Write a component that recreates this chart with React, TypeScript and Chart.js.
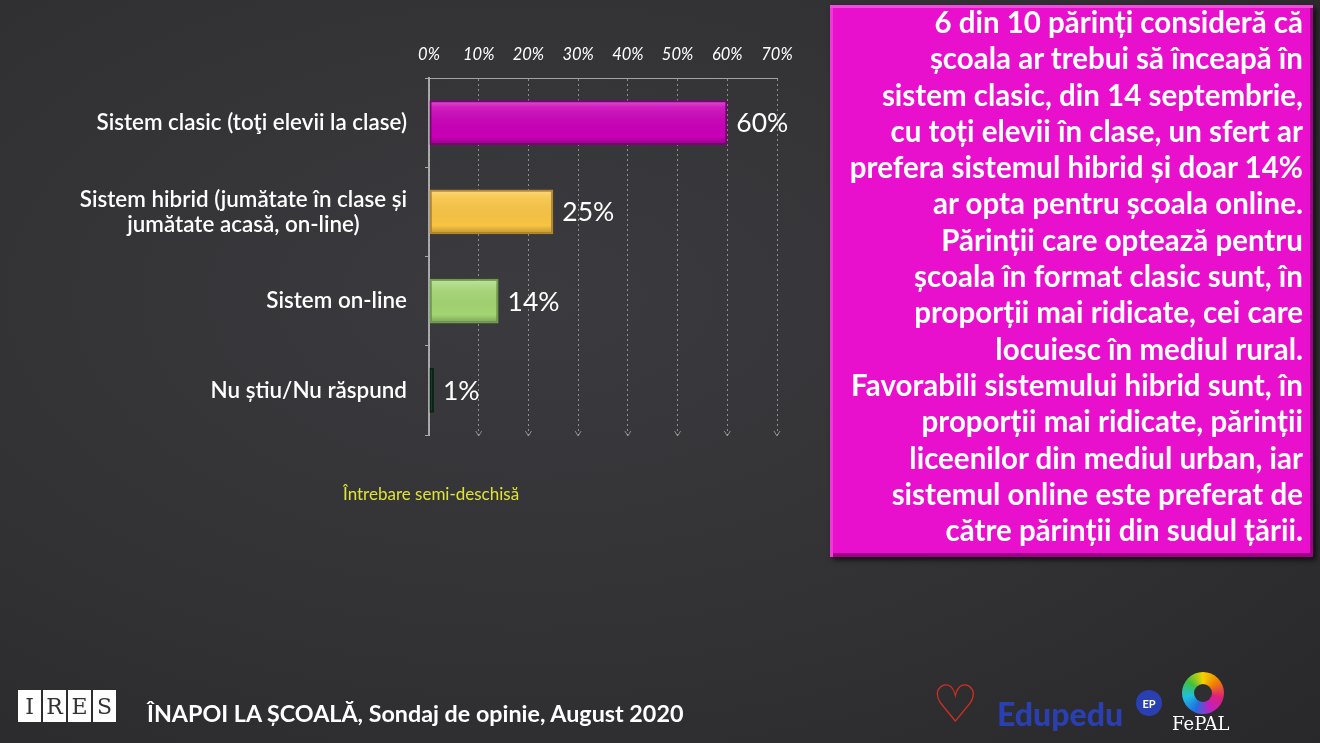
import React, { useEffect, useRef } from "react";
import { Chart, registerables } from "chart.js";

Chart.register(...registerables);

const categories: string[][] = [
  ["Sistem clasic (toţi elevii la clase)"],
  ["Sistem hibrid (jumătate în clase și", "jumătate acasă, on-line)"],
  ["Sistem on-line"],
  ["Nu știu/Nu răspund"],
];
const values: number[] = [60, 25, 14, 1];
const valueLabels: string[] = ["60%", "25%", "14%", "1%"];
const barColors: string[] = ["#c900b8", "#f8c443", "#a3d572", "#0f4a30"];
const barBorders: string[] = ["#7e0074", "#b8862a", "#6f9e48", "#0a2418"];
const xTicks: number[] = [0, 10, 20, 30, 40, 50, 60, 70];

const boxLines: string[] = [
  "6 din 10 părinți consideră că",
  "școala ar trebui să înceapă în",
  "sistem clasic, din 14 septembrie,",
  "cu toți elevii în clase, un sfert ar",
  "prefera sistemul hibrid și doar 14%",
  "ar opta pentru școala online.",
  "Părinții care  optează pentru",
  "școala în format clasic sunt, în",
  "proporții mai ridicate, cei care",
  "locuiesc în mediul rural.",
  "Favorabili sistemului hibrid sunt, în",
  "proporții mai ridicate, părinții",
  "liceenilor din mediul urban, iar",
  "sistemul online este preferat de",
  "către părinții din sudul țării.",
];

const FONT = "Lato, 'Open Sans', sans-serif";

const labelPlugin = {
  id: "customLabels",
  afterDraw(chart: any) {
    const ctx = chart.ctx;
    const y = chart.scales.y;
    const x = chart.scales.x;
    const meta = chart.getDatasetMeta(0);
    ctx.save();
    // arrowheads at bottom of grid lines
    ctx.strokeStyle = "rgba(200,200,200,0.6)";
    ctx.lineWidth = 1;
    const bottom = chart.chartArea.bottom;
    xTicks.slice(1).forEach((v) => {
      const px = x.getPixelForValue(v);
      ctx.beginPath();
      ctx.moveTo(px - 3, bottom - 4);
      ctx.lineTo(px, bottom + 1);
      ctx.lineTo(px + 3, bottom - 4);
      ctx.stroke();
    });
    // category labels
    ctx.fillStyle = "#ffffff";
    ctx.font = `600 22.4px ${FONT}`;
    ctx.textBaseline = "middle";
    const rightX = 407;
    categories.forEach((lines, i) => {
      const cy = y.getPixelForValue(i);
      const lh = 25;
      const widths = lines.map((l) => ctx.measureText(l).width);
      const maxW = Math.max(...widths);
      lines.forEach((l, j) => {
        const ly = cy + (j - (lines.length - 1) / 2) * lh;
        if (lines.length > 1) {
          ctx.textAlign = "center";
          ctx.fillText(l, rightX - maxW / 2, ly);
        } else {
          ctx.textAlign = "right";
          ctx.fillText(l, rightX, ly);
        }
      });
    });
    // value labels
    ctx.font = `400 26.5px ${FONT}`;
    ctx.textAlign = "left";
    meta.data.forEach((bar: any, i: number) => {
      ctx.fillText(valueLabels[i], bar.x + 9, bar.y + 1);
    });
    // bevel highlights
    meta.data.forEach((bar: any) => {
      const h = bar.height;
      const top = bar.y - h / 2;
      const left = bar.base;
      const w = bar.x - bar.base;
      if (w < 6) return;
      const g = ctx.createLinearGradient(0, top, 0, top + h);
      g.addColorStop(0, "rgba(255,255,255,0.35)");
      g.addColorStop(0.15, "rgba(255,255,255,0.12)");
      g.addColorStop(0.8, "rgba(0,0,0,0)");
      g.addColorStop(1, "rgba(0,0,0,0.25)");
      ctx.fillStyle = g;
      ctx.fillRect(left + 2, top + 2, w - 4, h - 4);
    });
    ctx.restore();
  },
};

function BarChart() {
  const ref = useRef<HTMLCanvasElement>(null);
  useEffect(() => {
    if (!ref.current) return;
    const chart = new Chart(ref.current, {
      type: "bar",
      data: {
        labels: categories.map((c) => c.join(" ")),
        datasets: [
          {
            data: values,
            backgroundColor: barColors,
            borderColor: barBorders,
            borderWidth: 2,
            borderSkipped: false,
            categoryPercentage: 1,
            barPercentage: 0.5,
          },
        ],
      },
      options: {
        indexAxis: "y",
        animation: false,
        responsive: false,
        maintainAspectRatio: false,
        layout: { padding: { left: 0, right: 43, top: 0, bottom: 35 } },
        plugins: { legend: { display: false }, tooltip: { enabled: false } },
        scales: {
          x: {
            position: "top",
            min: 0,
            max: 70,
            afterBuildTicks: (s: any) => {
              s.ticks = xTicks.map((v) => ({ value: v }));
            },
            afterFit: (s: any) => {
              s.height = 78;
            },
            ticks: {
              color: "#ffffff",
              font: { family: FONT, size: 16.5, style: "italic" },
              padding: 13,
              callback: (v: any) => `${v}%`,
            },
            grid: {
              color: "rgba(200,200,200,0.6)",
              lineWidth: 1,
              drawTicks: false,
            },
            border: { display: true, color: "rgba(190,190,190,0.8)", dash: [2, 3], width: 1 },
          },
          y: {
            afterFit: (s: any) => {
              s.width = 429;
            },
            ticks: { display: false },
            grid: {
              display: true,
              offset: true,
              drawOnChartArea: false,
              drawTicks: true,
              tickLength: 4,
              color: "rgba(180,180,180,0.9)",
            },
            border: { display: true, color: "rgba(180,180,180,0.9)", width: 2 },
          },
        },
      },
      plugins: [labelPlugin],
    } as any);
    return () => chart.destroy();
  }, []);
  return (
    <canvas
      ref={ref}
      width={820}
      height={470}
      style={{ position: "absolute", left: 0, top: 0, width: 820, height: 470 }}
    />
  );
}

export default function App() {
  useEffect(() => {
    document.body.style.margin = "0";
  }, []);
  return (
    <div
      style={{
        position: "fixed",
        left: 0,
        top: 0,
        width: 1320,
        height: 743,
        overflow: "hidden",
        background: "radial-gradient(ellipse at 40% 40%, #3b3b3f 0%, #313134 60%, #28282a 100%)",
        fontFamily: FONT,
      }}
    >
      <BarChart />
      <div
        style={{
          position: "absolute",
          left: 343,
          top: 483,
          color: "#dfe336",
          fontSize: 17,
          fontFamily: FONT,
        }}
      >
        Întrebare semi-deschisă
      </div>
      <div
        style={{
          position: "absolute",
          left: 830,
          top: 5,
          width: 483,
          height: 552,
          boxSizing: "border-box",
          background: "#e810cc",
          boxShadow:
            "inset 0 3px 0 #f24be0, inset 3px 0 0 #f03ad8, inset -3px -4px 0 #a0008a, 3px 3px 5px rgba(0,0,0,0.7)",
          color: "#ffffff",
          fontWeight: 700,
          fontSize: 29.5,
          lineHeight: "36.3px",
          textAlign: "right",
          paddingRight: 10,
          fontFamily: FONT,
          whiteSpace: "nowrap",
        }}
      >
        <div style={{ marginTop: -1 }}>
          {boxLines.map((l, i) => (
            <div key={i}>{l}</div>
          ))}
        </div>
      </div>
      <div
        style={{
          position: "absolute",
          left: 18,
          top: 690,
          display: "flex",
          gap: 2,
        }}
      >
        {["I", "R", "E", "S"].map((c) => (
          <div
            key={c}
            style={{
              width: 23,
              height: 32,
              background: "#ffffff",
              color: "#333",
              fontFamily: "'DejaVu Serif', serif",
              fontSize: 22,
              display: "flex",
              alignItems: "center",
              justifyContent: "center",
            }}
          >
            {c}
          </div>
        ))}
      </div>
      <div
        style={{
          position: "absolute",
          left: 147,
          top: 699,
          color: "#ffffff",
          fontWeight: 700,
          fontSize: 23.3,
          fontFamily: FONT,
        }}
      >
        ÎNAPOI LA ȘCOALĂ, Sondaj de opinie, August 2020
      </div>
      <div
        style={{
          position: "absolute",
          left: 932,
          top: 676,
          color: "#d33020",
          fontSize: 52,
          lineHeight: "52px",
        }}
      >
        ♡
      </div>
      <div
        style={{
          position: "absolute",
          left: 997,
          top: 694,
          color: "#2a3fb0",
          fontWeight: 900,
          fontSize: 32,
          fontFamily: FONT,
        }}
      >
        Edupedu
      </div>
      <div
        style={{
          position: "absolute",
          left: 1136,
          top: 690,
          width: 26,
          height: 26,
          borderRadius: 13,
          background: "#2a3fb0",
          color: "#fff",
          fontSize: 11,
          fontWeight: 700,
          display: "flex",
          alignItems: "center",
          justifyContent: "center",
        }}
      >
        EP
      </div>
      <div
        style={{
          position: "absolute",
          left: 1182,
          top: 672,
          width: 42,
          height: 42,
          borderRadius: 21,
          background:
            "conic-gradient(#f4d000, #f08000, #e0207a, #c020c0, #2070e0, #20c0e0, #40c040, #f4d000)",
        }}
      >
        <div
          style={{
            position: "absolute",
            left: 12,
            top: 12,
            width: 18,
            height: 18,
            borderRadius: 9,
            background: "#2f2f32",
          }}
        />
      </div>
      <div
        style={{
          position: "absolute",
          left: 1172,
          top: 713,
          color: "#fff",
          fontFamily: "'DejaVu Serif', serif",
          fontSize: 18,
        }}
      >
        FePAL
      </div>
    </div>
  );
}
